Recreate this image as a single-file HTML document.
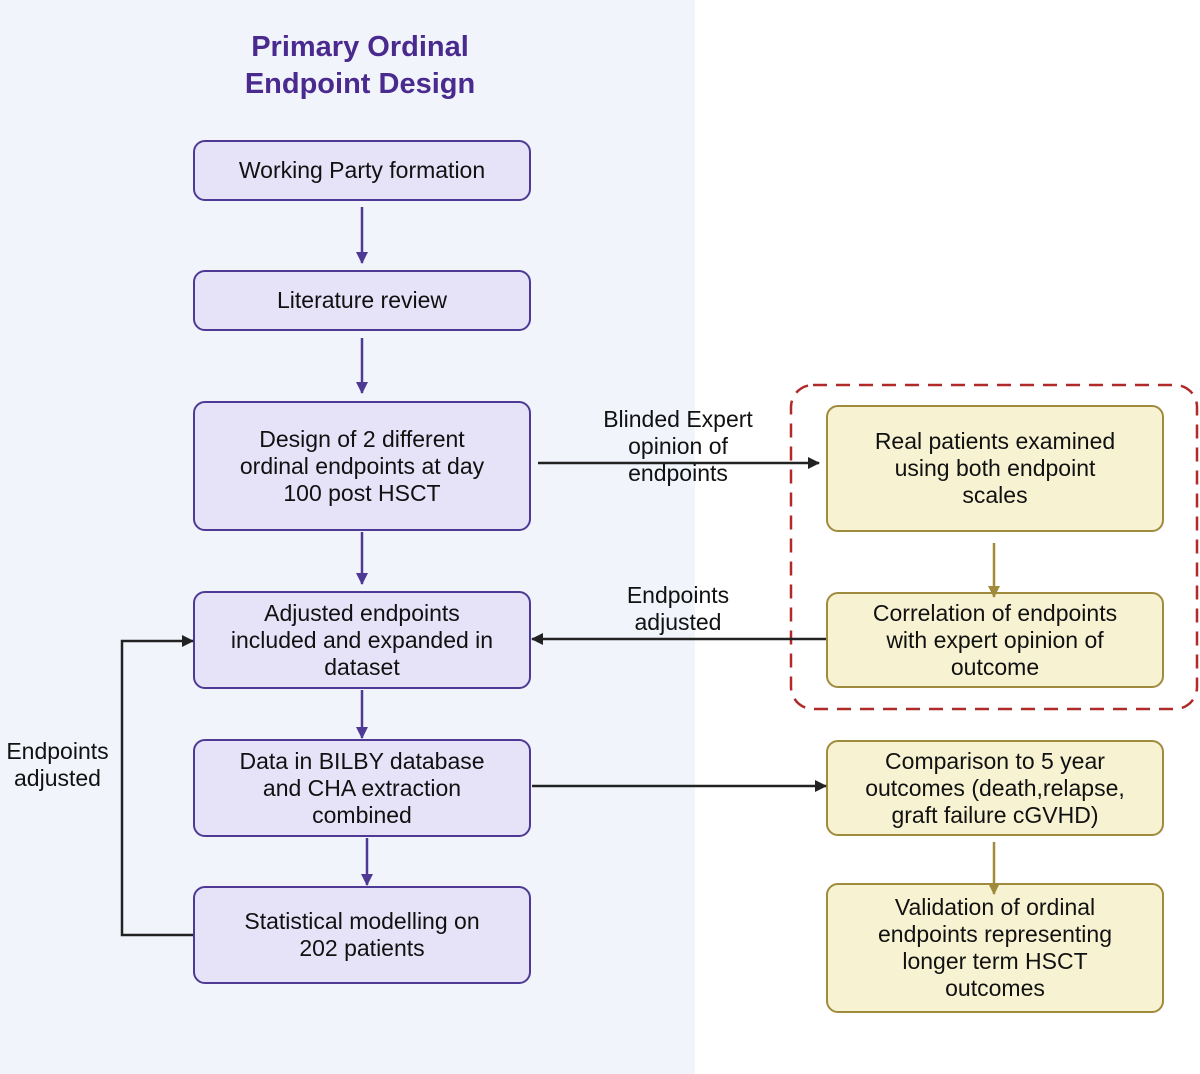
<!DOCTYPE html>
<html><head><style>
body{margin:0;width:1200px;height:1074px;background:#fff;position:relative;font-family:"Liberation Sans",Arial,sans-serif;overflow:hidden}
.bg{position:absolute;left:0;top:0;width:695px;height:1074px;background:#f1f5fb}
.b{position:absolute;box-sizing:border-box;display:flex;align-items:center;justify-content:center;text-align:center;font-size:23px;line-height:27px;color:#111;border-radius:12px}
.p{background:#e6e2f8;border:2.5px solid #4e3a94;left:193px;width:338px}
.y{background:#f7f3d2;border:2.5px solid #a08a3c;left:826px;width:338px}
.t{position:absolute;text-align:center;font-size:23px;line-height:27px;color:#111}
</style></head><body>
<div class="bg"></div>
<div class="t" style="left:160px;width:400px;top:29px;font-size:29px;line-height:37px;font-weight:bold;color:#4a2a8e">Primary Ordinal<br>Endpoint Design</div>
<div class="b p" style="top:140px;height:61px">Working Party formation</div>
<div class="b p" style="top:270px;height:61px">Literature review</div>
<div class="b p" style="top:401px;height:130px">Design of 2 different<br>ordinal endpoints at day<br>100 post HSCT</div>
<div class="b p" style="top:591px;height:98px">Adjusted endpoints<br>included and expanded in<br>dataset</div>
<div class="b p" style="top:739px;height:98px">Data in BILBY database<br>and CHA extraction<br>combined</div>
<div class="b p" style="top:886px;height:98px">Statistical modelling on<br>202 patients</div>
<div class="b y" style="top:405px;height:127px">Real patients examined<br>using both endpoint<br>scales</div>
<div class="b y" style="top:592px;height:96px">Correlation of endpoints<br>with expert opinion of<br>outcome</div>
<div class="b y" style="top:740px;height:96px">Comparison to 5 year<br>outcomes (death,relapse,<br>graft failure cGVHD)</div>
<div class="b y" style="top:883px;height:130px">Validation of ordinal<br>endpoints representing<br>longer term HSCT<br>outcomes</div>
<svg width="1200" height="1074" style="position:absolute;left:0;top:0">
<defs>
<marker id="ap" markerWidth="12" markerHeight="12" refX="11" refY="6" orient="auto" markerUnits="userSpaceOnUse"><path d="M0,0L12,6L0,12z" fill="#4e3a94"/></marker>
<marker id="ak" markerWidth="12" markerHeight="12" refX="11" refY="6" orient="auto" markerUnits="userSpaceOnUse"><path d="M0,0L12,6L0,12z" fill="#222"/></marker>
<marker id="ay" markerWidth="12" markerHeight="12" refX="11" refY="6" orient="auto" markerUnits="userSpaceOnUse"><path d="M0,0L12,6L0,12z" fill="#a08a3c"/></marker>
</defs>
<rect x="791" y="385" width="406" height="324" rx="22" fill="none" stroke="#b02a2a" stroke-width="2.5" stroke-dasharray="14,9"/>
<g stroke="#4e3a94" stroke-width="2.5" fill="none" marker-end="url(#ap)">
<line x1="362" y1="207" x2="362" y2="263"/>
<line x1="362" y1="338" x2="362" y2="393"/>
<line x1="362" y1="532" x2="362" y2="584"/>
<line x1="362" y1="690" x2="362" y2="738"/>
<line x1="367" y1="838" x2="367" y2="885"/>
</g>
<g stroke="#222" stroke-width="2.5" fill="none" marker-end="url(#ak)">
<line x1="538" y1="463" x2="819" y2="463"/>
<line x1="826" y1="639" x2="532" y2="639"/>
<line x1="532" y1="786" x2="826" y2="786"/>
<polyline points="193,935 122,935 122,641 193,641"/>
</g>
<g stroke="#a08a3c" stroke-width="2.5" fill="none" marker-end="url(#ay)">
<line x1="994" y1="543" x2="994" y2="597"/>
<line x1="994" y1="842" x2="994" y2="894"/>
</g>
</svg>
<div class="t" style="left:578px;width:200px;top:406px">Blinded Expert<br>opinion of<br>endpoints</div>
<div class="t" style="left:578px;width:200px;top:582px">Endpoints<br>adjusted</div>
<div class="t" style="left:0px;width:115px;top:738px">Endpoints<br>adjusted</div>
</body></html>
